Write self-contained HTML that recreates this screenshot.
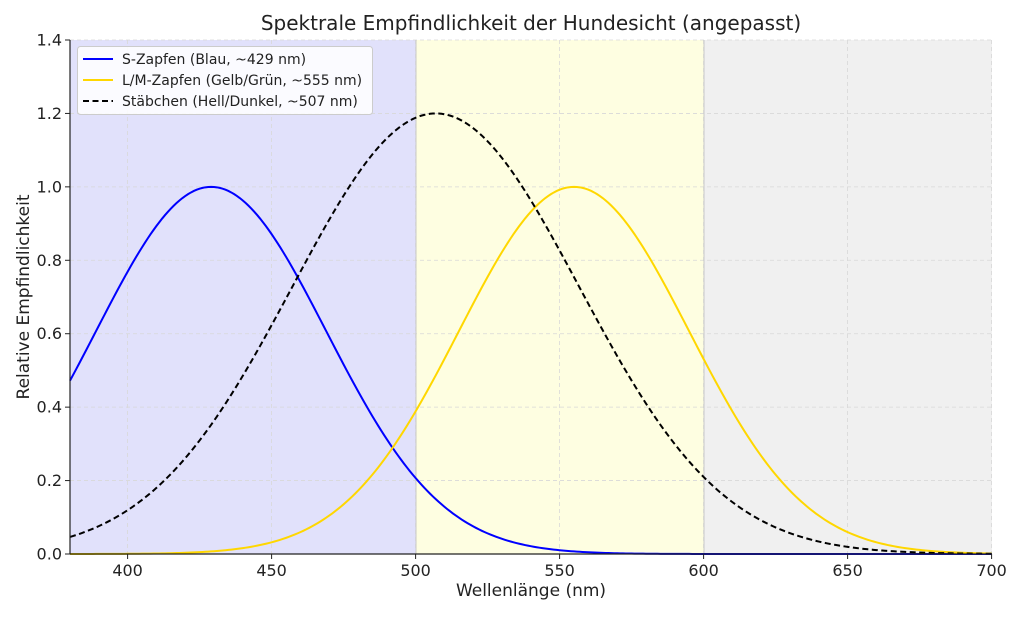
<!DOCTYPE html>
<html><head><meta charset="utf-8"><style>
html,body{margin:0;padding:0;background:#fff;}
svg text{font-family:"DejaVu Sans","Liberation Sans",sans-serif;fill:#222;}
</style></head><body>
<svg id="s" width="1024" height="614" xmlns="http://www.w3.org/2000/svg">
<rect width="1024" height="614" fill="#fff"/>
<rect x="70" y="40" width="346" height="514" fill="#e1e1fb"/>
<rect x="416" y="40" width="288" height="514" fill="#fefee1"/>
<rect x="704" y="40" width="288" height="514" fill="#f0f0f0"/>
<g id="grid" stroke="#d8d8d8" stroke-width="0.8" stroke-dasharray="4,3"></g>
<line x1="416" y1="40" x2="416" y2="554" stroke="#c8c8c8"/>
<line x1="704" y1="40" x2="704" y2="554" stroke="#c8c8c8"/>
<path id="pS" fill="none" stroke="#0000ff" stroke-width="2"/>
<path id="pL" fill="none" stroke="#ffd700" stroke-width="2"/>
<path id="pR" fill="none" stroke="#000" stroke-width="2" stroke-dasharray="6,3.5"/>
<line x1="70" y1="40" x2="70" y2="554.5" stroke="#222" stroke-width="1.2"/>
<line x1="70" y1="554" x2="992" y2="554" stroke="#222" stroke-width="1.2"/>
<g id="ticks" font-size="16"></g>
<text x="531" y="30" font-size="20" text-anchor="middle">Spektrale Empfindlichkeit der Hundesicht (angepasst)</text>
<text x="531" y="596" font-size="17" text-anchor="middle">Wellenlänge (nm)</text>
<text transform="translate(29,297) rotate(-90)" font-size="17" text-anchor="middle">Relative Empfindlichkeit</text>
<rect x="77.5" y="46.5" width="295" height="68" rx="3" fill="#fff" fill-opacity="0.85" stroke="#ccc"/>
<line x1="83" y1="59" x2="113" y2="59" stroke="#0000ff" stroke-width="2"/>
<line x1="83" y1="80" x2="113" y2="80" stroke="#ffd700" stroke-width="2"/>
<line x1="83" y1="101" x2="113" y2="101" stroke="#000" stroke-width="2" stroke-dasharray="6,3.5"/>
<text x="122" y="64" font-size="14">S-Zapfen (Blau, ~429 nm)</text>
<text x="122" y="85" font-size="14">L/M-Zapfen (Gelb/Grün, ~555 nm)</text>
<text x="122" y="106" font-size="14">Stäbchen (Hell/Dunkel, ~507 nm)</text>
</svg>
<script>
var X=function(n){return 70+(n-380)*2.88;},Y=function(v){return 554-v*514/1.4;};
function p(mu,a,sg){var d="";for(var n=380;n<=700;n+=1){var v=a*Math.exp(-(n-mu)*(n-mu)/(2*sg*sg));d+=(n==380?"M":"L")+X(n).toFixed(2)+","+Y(v).toFixed(2);}return d;}
document.getElementById("pS").setAttribute("d",p(429,1,40));
document.getElementById("pL").setAttribute("d",p(555,1,40));
document.getElementById("pR").setAttribute("d",p(507,1.2,49.8));
var g=document.getElementById("grid"),t=document.getElementById("ticks"),h="",gh="";
for(var n=400;n<=700;n+=50){var x=X(n);gh+='<line x1="'+x+'" y1="40" x2="'+x+'" y2="554"/>';h+='<line x1="'+x+'" y1="554" x2="'+x+'" y2="559" stroke="#222"/><text x="'+x+'" y="576" text-anchor="middle">'+n+'</text>';}
for(var i=0;i<=7;i++){var v=i*0.2,y=Y(v);gh+='<line x1="70" y1="'+y+'" x2="992" y2="'+y+'"/>';h+='<line x1="65" y1="'+y+'" x2="70" y2="'+y+'" stroke="#222"/><text x="62" y="'+(y+5.5)+'" text-anchor="end">'+v.toFixed(1)+'</text>';}
g.innerHTML=gh;t.innerHTML=h;
</script>
</body></html>
